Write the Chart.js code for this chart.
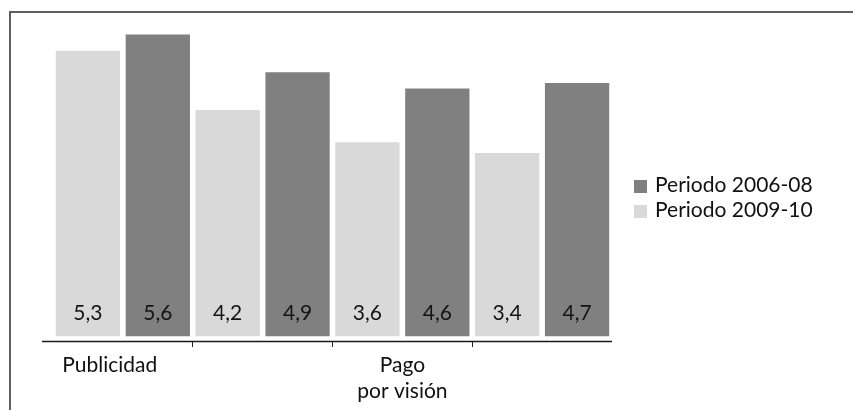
<!DOCTYPE html>
<html>
<head>
<meta charset="utf-8">
<script src="https://cdn.jsdelivr.net/npm/chart.js@4.4.1/dist/chart.umd.min.js"></script>
<style>
  html, body { margin: 0; padding: 0; background: #fff; }
  #wrap { position: relative; width: 853px; height: 410px; overflow: hidden; }
  #frame { position: absolute; left: 9px; top: 11px; width: 860px; height: 420px;
           border-top: 2px solid #5e5e5e; border-left: 2px solid #5e5e5e; }
  canvas { position: absolute; left: 0; top: 0; }
</style>
</head>
<body>
<div id="wrap">
  <div id="frame"></div>
  <canvas id="chart" width="853" height="410"></canvas>
</div>
<script>
// Categories (the 2nd and 4th groups carry no label)
const categories = ['Publicidad', '', ['Pago', 'por visión'], ''];
// Series values
const periodo2009_10 = [5.3, 4.2, 3.6, 3.4];
const periodo2006_08 = [5.6, 4.9, 4.6, 4.7];
const seriesNames = ['Periodo 2009-10', 'Periodo 2006-08'];
const seriesColors = ['#d9d9d9', '#808080'];
const legendOrder = [1, 0];

const FONT = 'Lato, "Open Sans", sans-serif';
const FONT_SIZE = 21;
const fmt = v => v.toFixed(1).replace('.', ',');

// Value printed near the foot of every bar
const valueLabels = {
  id: 'valueLabels',
  afterDatasetsDraw(chart) {
    const ctx = chart.ctx;
    ctx.save();
    ctx.font = FONT_SIZE + 'px ' + FONT;
    ctx.fillStyle = '#141414';
    ctx.textAlign = 'center';
    ctx.textBaseline = 'alphabetic';
    chart.data.datasets.forEach((ds, di) => {
      chart.getDatasetMeta(di).data.forEach((bar, i) => {
        ctx.fillText(fmt(ds.data[i]), bar.x, bar.base - 16);
      });
    });
    ctx.restore();
  }
};

// Baseline of the category axis, running a little past the first group
const axisLine = {
  id: 'axisLine',
  afterDraw(chart) {
    const { ctx, chartArea } = chart;
    ctx.save();
    ctx.strokeStyle = '#1a1a1a';
    ctx.lineWidth = 1.6;
    ctx.beginPath();
    ctx.moveTo(chartArea.left - 11, chartArea.bottom + 0.5);
    ctx.lineTo(chartArea.right, chartArea.bottom + 0.5);
    ctx.stroke();
    ctx.restore();
  }
};

// Legend to the right of the plot
const sideLegend = {
  id: 'sideLegend',
  afterDraw(chart) {
    const { ctx, chartArea } = chart;
    const x0 = chartArea.right + 22;
    const top = chart.height / 2 - 25;
    ctx.save();
    ctx.font = FONT_SIZE + 'px ' + FONT;
    ctx.textAlign = 'left';
    ctx.textBaseline = 'alphabetic';
    legendOrder.forEach((di, row) => {
      const ds = chart.data.datasets[di];
      const y = top + row * 25;
      ctx.fillStyle = ds.backgroundColor;
      ctx.fillRect(x0, y, 13, 13);
      ctx.fillStyle = '#111';
      ctx.fillText(ds.label, x0 + 21, y + 12);
    });
    ctx.restore();
  }
};

new Chart(document.getElementById('chart'), {
  type: 'bar',
  data: {
    labels: categories,
    datasets: [
      { label: seriesNames[0], data: periodo2009_10, backgroundColor: seriesColors[0] },
      { label: seriesNames[1], data: periodo2006_08, backgroundColor: seriesColors[1] }
    ]
  },
  options: {
    responsive: false,
    animation: false,
    devicePixelRatio: 1,
    layout: { padding: { left: 53, right: 241, top: 13, bottom: 0 } },
    datasets: { bar: { categoryPercentage: 1.0, barPercentage: 0.92 } },
    plugins: { legend: { display: false }, tooltip: { enabled: false } },
    scales: {
      y: {
        display: false,
        min: -0.09,
        max: 6
      },
      x: {
        offset: true,
        border: { display: false },
        grid: {
          offset: true,
          drawOnChartArea: false,
          drawTicks: true,
          tickLength: 6,
          lineWidth: 1,
          color: c => (c.type === 'tick' && c.index > 0) ? '#222' : 'rgba(0,0,0,0)'
        },
        ticks: {
          autoSkip: false,
          maxRotation: 0,
          padding: 5,
          color: '#111',
          font: { family: FONT, size: FONT_SIZE, lineHeight: 1.25 },
          // first label sits a little left of its group's centre
          callback: function (value, index) {
            const label = this.getLabelForValue(value);
            return index === 0 ? label + '\u2003\u2002' : label;
          }
        },
        afterFit: s => { s.height = 69; }
      }
    }
  },
  plugins: [valueLabels, axisLine, sideLegend]
});
</script>
</body>
</html>
